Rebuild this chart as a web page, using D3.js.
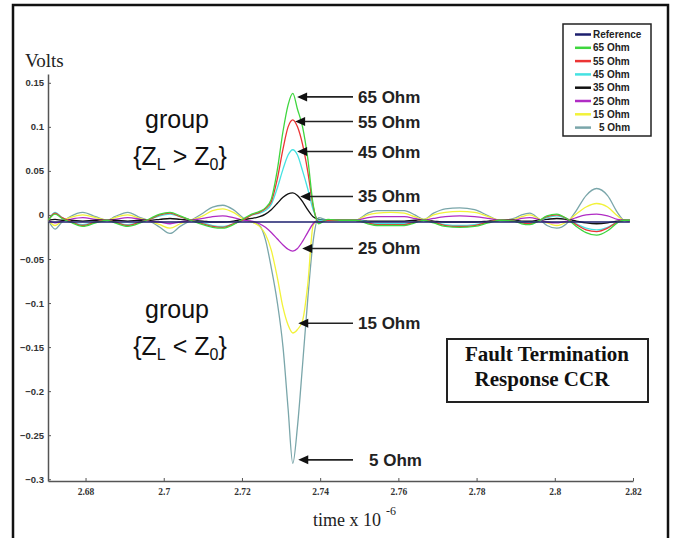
<!DOCTYPE html>
<html>
<head>
<meta charset="utf-8">
<script src="https://cdn.jsdelivr.net/npm/d3@7"></script>
<style>
  body { margin: 0; background: #fff; }
  svg { display: block; }
</style>
</head>
<body>
<svg></svg>
<script>
const w = 677;
const h = 538;

// time samples (x 10^-6 s), shared by all fault curves
const times = [2.6705, 2.6722, 2.6740, 2.6760, 2.6793, 2.6826, 2.6855, 2.6875, 2.6908, 2.6940,
  2.6965, 2.6990, 2.7016, 2.7042, 2.7070, 2.7100, 2.7125, 2.7151, 2.7178, 2.7205,
  2.7225, 2.7245, 2.7260, 2.7275, 2.7290, 2.7305, 2.7318, 2.7330, 2.7342, 2.7355,
  2.7368, 2.7382, 2.7396, 2.7420, 2.7450, 2.7490, 2.7522, 2.7545, 2.7580, 2.7615,
  2.7642, 2.7665, 2.7690, 2.7720, 2.7757, 2.7795, 2.7830, 2.7860, 2.7895, 2.7915,
  2.7936, 2.7958, 2.7980, 2.8005, 2.8030, 2.8055, 2.8080, 2.8107, 2.8135, 2.8160,
  2.8177, 2.8192];

const refTimes = [2.6705, 2.8192];
const refVolts = [-0.008, -0.008];

const ohm65 = [-0.006, 0.001, -0.004, -0.008, -0.013, -0.009, -0.006, -0.009, -0.013, -0.009,
  -0.004, 0.001, 0.003, -0.001, -0.006, -0.011, -0.014, -0.015, -0.011, -0.004,
  0.001, 0.004, 0.008, 0.018, 0.050, 0.095, 0.125, 0.138, 0.120, 0.100,
  0.065, 0.012, -0.010, -0.005, -0.006, -0.006, -0.010, -0.012, -0.012, -0.012,
  -0.009, -0.006, -0.009, -0.013, -0.014, -0.013, -0.009, -0.006, -0.007, -0.010,
  -0.011, -0.007, -0.001, 0.001, -0.004, -0.013, -0.020, -0.023, -0.018, -0.009,
  -0.006, -0.006];

const ohm55 = [-0.006, 0.002, -0.003, -0.007, -0.012, -0.008, -0.006, -0.008, -0.012, -0.008,
  -0.005, 0.000, 0.002, -0.002, -0.006, -0.010, -0.013, -0.014, -0.010, -0.005,
  0.000, 0.003, 0.007, 0.015, 0.040, 0.075, 0.100, 0.108, 0.100, 0.080,
  0.050, 0.010, -0.008, -0.006, -0.006, -0.006, -0.009, -0.011, -0.011, -0.011,
  -0.008, -0.006, -0.008, -0.012, -0.013, -0.012, -0.008, -0.006, -0.007, -0.009,
  -0.010, -0.007, -0.002, 0.000, -0.004, -0.011, -0.017, -0.019, -0.015, -0.008,
  -0.006, -0.006];

const ohm45 = [-0.006, 0.003, -0.003, -0.007, -0.011, -0.008, -0.006, -0.008, -0.011, -0.008,
  -0.005, -0.001, 0.001, -0.002, -0.006, -0.009, -0.012, -0.013, -0.010, -0.005,
  0.000, 0.002, 0.005, 0.012, 0.030, 0.052, 0.068, 0.074, 0.068, 0.050,
  0.030, 0.006, -0.006, -0.006, -0.006, -0.006, -0.008, -0.010, -0.010, -0.010,
  -0.008, -0.006, -0.008, -0.011, -0.012, -0.011, -0.008, -0.006, -0.007, -0.008,
  -0.009, -0.007, -0.003, -0.001, -0.004, -0.010, -0.015, -0.017, -0.014, -0.008,
  -0.006, -0.006];

const ohm35 = [-0.006, -0.005, -0.006, -0.006, -0.007, -0.006, -0.006, -0.006, -0.007, -0.006,
  -0.006, -0.005, -0.004, -0.005, -0.006, -0.007, -0.008, -0.008, -0.007, -0.005,
  -0.004, -0.002, 0.001, 0.006, 0.013, 0.020, 0.024, 0.025, 0.022, 0.015,
  0.006, -0.002, -0.005, -0.006, -0.006, -0.006, -0.007, -0.007, -0.007, -0.007,
  -0.006, -0.006, -0.007, -0.008, -0.008, -0.008, -0.007, -0.006, -0.006, -0.007,
  -0.007, -0.006, -0.005, -0.004, -0.005, -0.007, -0.009, -0.010, -0.009, -0.007,
  -0.006, -0.006];

const ohm25 = [-0.006, -0.009, -0.007, -0.005, -0.003, -0.005, -0.006, -0.005, -0.003, -0.005,
  -0.007, -0.008, -0.010, -0.008, -0.006, -0.004, -0.002, -0.001, -0.003, -0.006,
  -0.007, -0.010, -0.014, -0.020, -0.027, -0.034, -0.039, -0.041, -0.038, -0.030,
  -0.020, -0.010, -0.006, -0.006, -0.006, -0.006, -0.003, -0.002, -0.002, -0.002,
  -0.004, -0.006, -0.004, -0.002, -0.001, -0.002, -0.004, -0.006, -0.006, -0.004,
  -0.003, -0.005, -0.008, -0.009, -0.007, -0.003, 0.000, 0.001, -0.001, -0.005,
  -0.006, -0.007];

const ohm15 = [-0.006, -0.012, -0.007, -0.003, 0.000, -0.003, -0.006, -0.003, 0.000, -0.004,
  -0.007, -0.011, -0.015, -0.010, -0.006, -0.001, 0.005, 0.007, 0.003, -0.005,
  -0.008, -0.013, -0.022, -0.040, -0.070, -0.105, -0.125, -0.134, -0.130, -0.120,
  -0.080, -0.012, -0.005, -0.006, -0.006, -0.006, 0.000, 0.002, 0.003, 0.002,
  -0.002, -0.005, 0.000, 0.003, 0.004, 0.003, -0.002, -0.006, -0.005, -0.002,
  0.000, -0.004, -0.009, -0.012, -0.008, 0.001, 0.009, 0.013, 0.009, -0.001,
  -0.006, -0.007];

const ohm5 = [-0.006, -0.016, -0.008, -0.002, 0.003, -0.002, -0.006, -0.002, 0.003, -0.003,
  -0.007, -0.014, -0.021, -0.013, -0.006, 0.002, 0.009, 0.011, 0.006, -0.004,
  -0.008, -0.012, -0.028, -0.060, -0.098, -0.150, -0.220, -0.282, -0.240, -0.170,
  -0.097, -0.030, -0.003, -0.006, -0.006, -0.006, 0.002, 0.005, 0.005, 0.005,
  0.000, -0.005, 0.002, 0.007, 0.008, 0.006, -0.001, -0.006, -0.004, 0.000,
  0.002, -0.004, -0.012, -0.015, -0.010, 0.005, 0.022, 0.030, 0.022, 0.003,
  -0.006, -0.007];

const seriesNames = ['Reference', '65 Ohm', '55 Ohm', '45 Ohm', '35 Ohm', '25 Ohm', '15 Ohm', '5 Ohm'];
const seriesColors = ['#1d1f6e', '#3ed63e', '#ec3434', '#45e2e2', '#111111', '#b02cc4', '#f2f23a', '#7aa6aa'];
const seriesValues = [refVolts, ohm65, ohm55, ohm45, ohm35, ohm25, ohm15, ohm5];

const yTicks = [0.15, 0.1, 0.05, 0, -0.05, -0.1, -0.15, -0.2, -0.25, -0.3];
const xTicks = [2.68, 2.7, 2.72, 2.74, 2.76, 2.78, 2.8, 2.82];

// arrow callouts: label, where the arrow tip points (time, volts)
const annoLabels = ['65 Ohm', '55 Ohm', '45 Ohm', '35 Ohm', '25 Ohm', '15 Ohm', '5 Ohm'];
const annoTime = [2.7341, 2.7336, 2.7341, 2.7349, 2.7354, 2.7344, 2.7344];
const annoVolts = [0.134, 0.106, 0.072, 0.021, -0.038, -0.123, -0.278];

const svg = d3.select('svg')
  .attr('width', w)
  .attr('height', h);

// outer frame
svg.append('rect')
  .attr('x', 13).attr('y', 5)
  .attr('width', 655).attr('height', 545)
  .attr('fill', '#fff')
  .attr('stroke', '#111')
  .attr('stroke-width', 2.5);

// scales
const x = d3.scaleLinear().domain([2.6704, 2.82]).range([48, 633]);
const y = d3.scaleLinear().domain([-0.302, 0.16]).range([481, 74]);

// y axis
const yAxis = d3.axisLeft(y)
  .tickValues(yTicks)
  .tickFormat(d => d3.format('~g')(d))
  .tickSizeInner(-3)
  .tickSizeOuter(0)
  .tickPadding(4);

const gy = svg.append('g')
  .attr('transform', 'translate(48,0)')
  .call(yAxis);
gy.select('.domain').attr('stroke', '#555').attr('stroke-width', 1.5);
gy.selectAll('.tick line').attr('stroke', '#555');
gy.selectAll('.tick text')
  .attr('fill', '#333')
  .style('font', 'bold 9.5px "Liberation Sans", Arial, sans-serif');

// x axis
const xAxis = d3.axisBottom(x)
  .tickValues(xTicks)
  .tickFormat(d => d3.format('~g')(d))
  .tickSizeInner(-3)
  .tickSizeOuter(0)
  .tickPadding(7);

const gx = svg.append('g')
  .attr('transform', 'translate(0,481)')
  .call(xAxis);
gx.select('.domain').attr('stroke', '#555').attr('stroke-width', 1.5);
gx.selectAll('.tick line').attr('stroke', '#555');
gx.selectAll('.tick text')
  .attr('fill', '#333')
  .style('font', 'bold 9.5px "Liberation Serif", "Times New Roman", serif');

// axis titles
svg.append('text')
  .attr('x', 25).attr('y', 67)
  .style('font', '19px "Liberation Serif", "Times New Roman", serif')
  .attr('fill', '#222')
  .text('Volts');

const tl = svg.append('text')
  .attr('x', 313).attr('y', 526)
  .style('font', '18px "Liberation Serif", "Times New Roman", serif')
  .attr('fill', '#222');
tl.append('tspan').text('time x 10');
tl.append('tspan').attr('dx', 5).attr('dy', -11).style('font-size', '12px').text('-6');

// curves
const line = d3.line()
  .x(d => x(d[0]))
  .y(d => y(d[1]))
  .curve(d3.curveMonotoneX);

const order = [7, 6, 5, 4, 3, 2, 1, 0];
order.forEach(i => {
  const ts = i === 0 ? refTimes : times;
  const pts = seriesValues[i].map((v, k) => [ts[k], v]);
  svg.append('path')
    .datum(pts)
    .attr('fill', 'none')
    .attr('stroke', seriesColors[i])
    .attr('stroke-width', i === 0 ? 1.6 : 1.3)
    .attr('d', line);
});

// group labels
const groupFont = '25px "Liberation Sans", Arial, sans-serif';
function groupLabel(yTop, sym) {
  svg.append('text')
    .attr('x', 177).attr('y', yTop)
    .attr('text-anchor', 'middle')
    .style('font', groupFont)
    .attr('fill', '#111')
    .text('group');
  const t = svg.append('text')
    .attr('x', 180).attr('y', yTop + 37)
    .attr('text-anchor', 'middle')
    .style('font', groupFont)
    .attr('fill', '#111');
  t.append('tspan').text('{Z');
  t.append('tspan').attr('dy', 5).style('font-size', '16px').text('L');
  t.append('tspan').attr('dy', -5).text(' ' + sym + ' Z');
  t.append('tspan').attr('dy', 5).style('font-size', '16px').text('0');
  t.append('tspan').attr('dy', -5).text('}');
}
groupLabel(128, '>');
groupLabel(318, '<');

// arrow callouts
annoLabels.forEach((lab, i) => {
  const tx = x(annoTime[i]);
  const ty = y(annoVolts[i]);
  svg.append('line')
    .attr('x1', tx + 7).attr('y1', ty)
    .attr('x2', 353).attr('y2', ty)
    .attr('stroke', '#222')
    .attr('stroke-width', 1.6);
  svg.append('path')
    .attr('d', `M${tx},${ty}L${tx + 10},${ty - 4.5}L${tx + 10},${ty + 4.5}Z`)
    .attr('fill', '#111');
  svg.append('text')
    .attr('x', lab === '5 Ohm' ? 369 : 358)
    .attr('y', ty + 6)
    .style('font', 'bold 17px "Liberation Sans", Arial, sans-serif')
    .attr('fill', '#222')
    .text(lab);
});

// legend
const lg = svg.append('g');
lg.append('rect')
  .attr('x', 563).attr('y', 24)
  .attr('width', 88).attr('height', 112)
  .attr('fill', '#fff')
  .attr('stroke', '#222')
  .attr('stroke-width', 1.5);
seriesNames.forEach((name, i) => {
  const ly = 34.5 + i * 13.3;
  lg.append('line')
    .attr('x1', 575).attr('x2', 591)
    .attr('y1', ly).attr('y2', ly)
    .attr('stroke', seriesColors[i])
    .attr('stroke-width', 2.5);
  lg.append('text')
    .attr('x', name === '5 Ohm' ? 599 : 593)
    .attr('y', ly + 3.6)
    .style('font', 'bold 10px "Liberation Sans", Arial, sans-serif')
    .attr('fill', '#222')
    .text(name);
});

// title box
svg.append('rect')
  .attr('x', 447).attr('y', 339)
  .attr('width', 201).attr('height', 63)
  .attr('fill', '#fff')
  .attr('stroke', '#222')
  .attr('stroke-width', 2);
svg.append('text')
  .attr('x', 547).attr('y', 361)
  .attr('text-anchor', 'middle')
  .style('font', 'bold 21px "Liberation Serif", "Times New Roman", serif')
  .attr('fill', '#111')
  .text('Fault Termination');
svg.append('text')
  .attr('x', 542).attr('y', 386)
  .attr('text-anchor', 'middle')
  .style('font', 'bold 21px "Liberation Serif", "Times New Roman", serif')
  .attr('fill', '#111')
  .text('Response CCR');
</script>
</body>
</html>
